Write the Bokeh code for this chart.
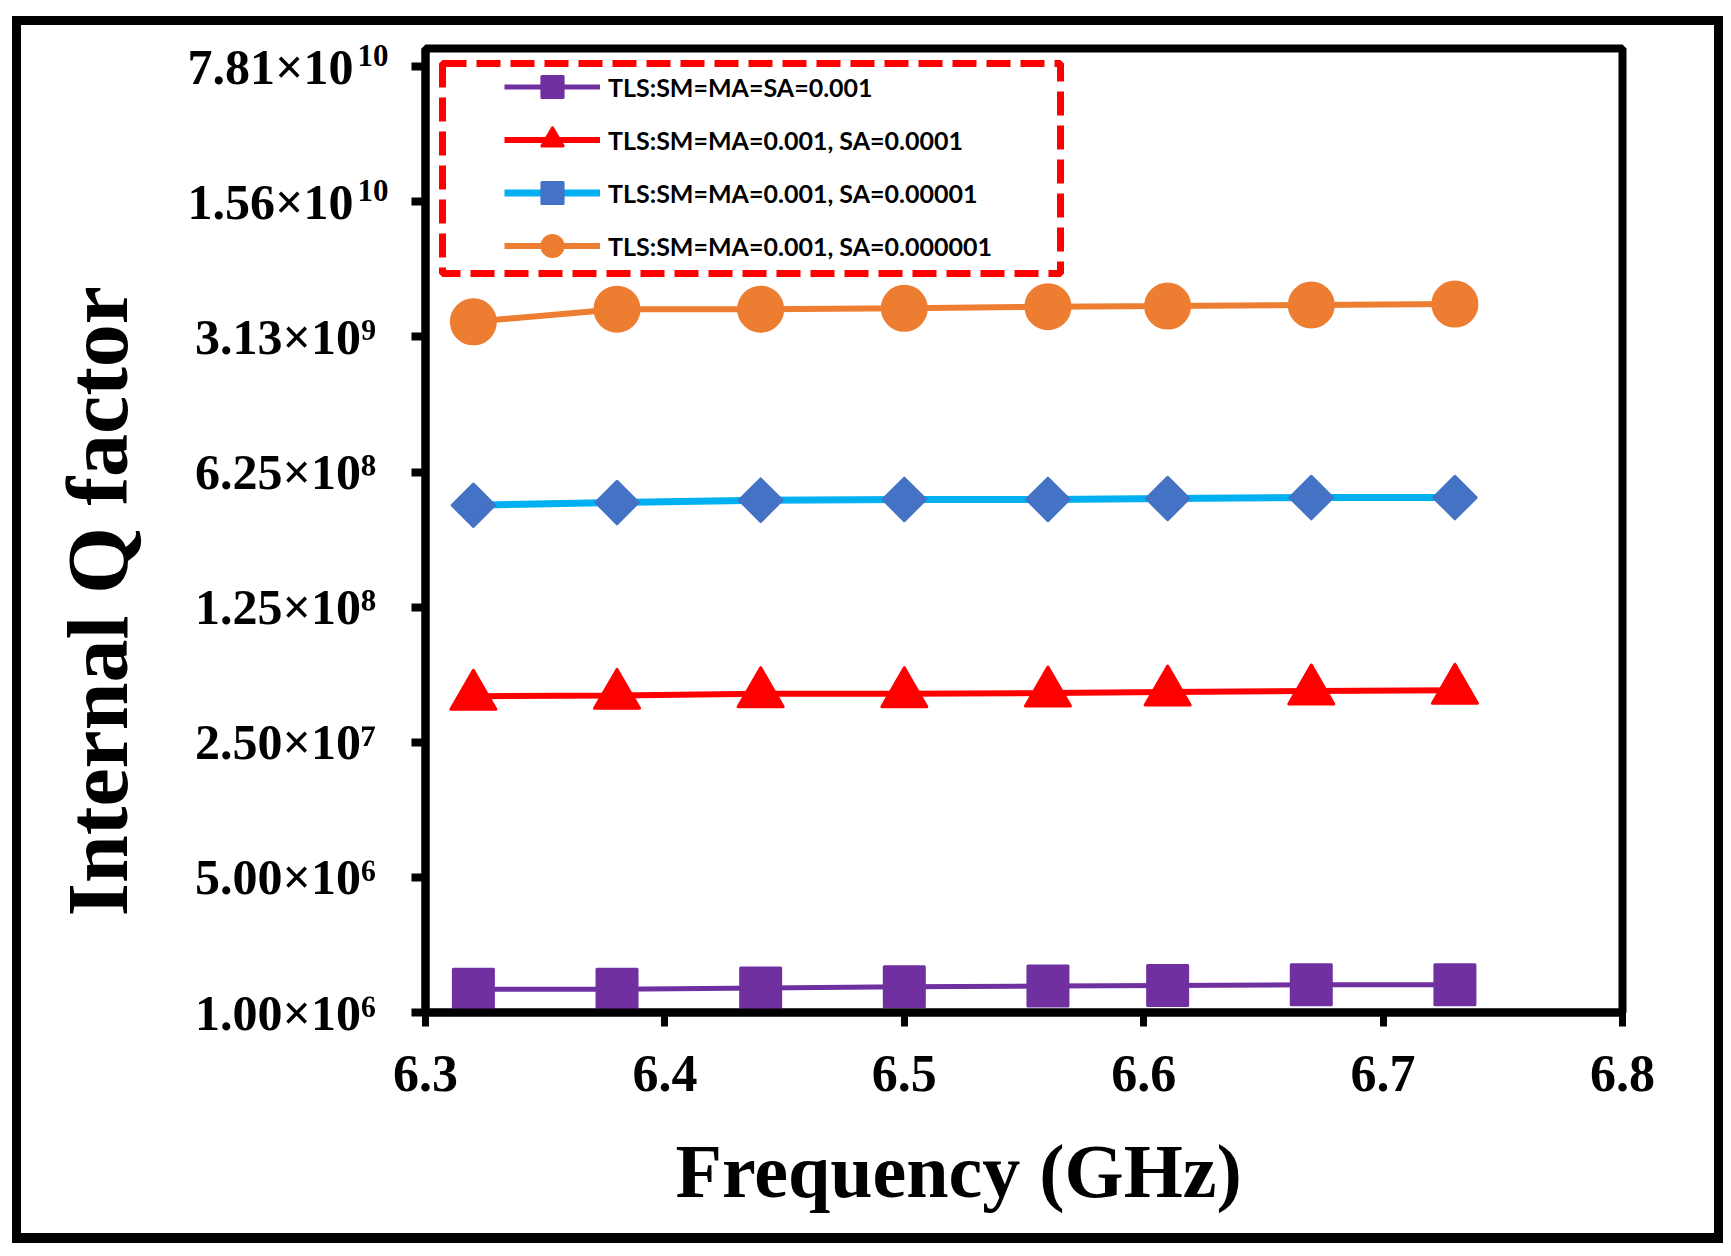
import numpy as np
from bokeh.plotting import figure
from bokeh.models import (Range1d, FixedTicker, PrintfTickFormatter, CustomJSTickFormatter,
                          Legend, LegendItem, BoxAnnotation, Title, Label)
from bokeh.embed import file_html
from bokeh.resources import INLINE

# data
freq = [6.32, 6.38, 6.44, 6.50, 6.56, 6.61, 6.67, 6.73]
q_sa_1e3 = [1.32e6, 1.32e6, 1.34e6, 1.36e6, 1.37e6, 1.38e6, 1.39e6, 1.39e6]
q_sa_1e4 = [4.32e7, 4.37e7, 4.46e7, 4.46e7, 4.49e7, 4.55e7, 4.60e7, 4.64e7]
q_sa_1e5 = [4.21e8, 4.35e8, 4.47e8, 4.51e8, 4.51e8, 4.56e8, 4.61e8, 4.61e8]
q_sa_1e6 = [3.74e9, 4.35e9, 4.35e9, 4.39e9, 4.48e9, 4.51e9, 4.57e9, 4.62e9]

series_labels = ["TLS:SM=MA=SA=0.001",
                 "TLS:SM=MA=0.001, SA=0.0001",
                 "TLS:SM=MA=0.001, SA=0.00001",
                 "TLS:SM=MA=0.001, SA=0.000001"]

x_ticks = [6.3, 6.4, 6.5, 6.6, 6.7, 6.8]
y_ticks = [1e6, 5e6, 2.5e7, 1.25e8, 6.25e8, 3.125e9, 1.5625e10, 7.8125e10]
# the two-digit exponents are drawn as separate small labels (gap kept with spaces)
y_tick_labels = ["1.00×10⁶\u2008", "5.00×10⁶\u2008", "2.50×10⁷\u2008", "1.25×10⁸\u2008",
                 "6.25×10⁸\u2008", "3.13×10⁹\u2008", "1.56×10\u2002\u2009", "7.81×10\u2002\u2009"]
big_exp_ticks = [1.5625e10, 7.8125e10]
big_exp_text = ["10", "10"]

x_lo, x_hi = 6.3, 6.8
y_lo, y_hi = 1e6, 9.7e10

SERIF = "Liberation Serif"

p = figure(width=1731, height=1256, x_range=Range1d(x_lo, x_hi), y_range=Range1d(y_lo, y_hi),
           y_axis_type="log", output_backend="svg", toolbar_location=None,
           min_border_left=425, min_border_right=109, min_border_top=48, min_border_bottom=244)
# outer black frame around the whole picture
p.styles = {"box-shadow": "inset 12px 16px 0 0 #ffffff, inset -8px -13px 0 0 #ffffff, "
                          "inset 21px 25px 0 0 #000000, inset -17px -23px 0 0 #000000",
            "background-color": "#ffffff"}
p.border_fill_color = None

p.xgrid.visible = False
p.ygrid.visible = False
p.outline_line_color = "black"
p.outline_line_width = 8
p.outline_line_alpha = 1.0
p.background_fill_color = "white"

# x axis
xa = p.xaxis[0]
xa.ticker = FixedTicker(ticks=x_ticks)
xa.formatter = PrintfTickFormatter(format="%.1f")
xa.axis_line_width = 8
xa.axis_line_color = "black"
xa.major_tick_line_width = 7
xa.major_tick_out = 14
xa.major_tick_in = 0
xa.minor_tick_line_color = None
xa.major_label_standoff = 29
xa.major_label_text_font = SERIF
xa.major_label_text_font_style = "bold"
xa.major_label_text_font_size = "52px"
xa.major_label_text_color = "black"

# y axis (log, steps of 5)
ya = p.yaxis[0]
ya.ticker = FixedTicker(ticks=y_ticks, minor_ticks=[])
ya.formatter = CustomJSTickFormatter(args=dict(tv=y_ticks, tl=y_tick_labels), code="""
    for (let i = 0; i < tv.length; i++) {
        if (Math.abs(tick - tv[i]) <= 1e-6 * tv[i]) return tl[i]
    }
    return ''
""")
ya.axis_line_width = 8
ya.axis_line_color = "black"
ya.major_tick_line_width = 8
ya.major_tick_out = 14
ya.major_tick_in = 0
ya.minor_tick_line_color = None
ya.major_label_standoff = 23
ya.major_label_text_font = SERIF
ya.major_label_text_font_style = "bold"
ya.major_label_text_font_size = "50px"
ya.major_label_text_color = "black"

styles = [
    (q_sa_1e3, "#7030A0", "#7030A0", "square", 40, 0, 5),
    (q_sa_1e4, "#FF0000", "#FF0000", "triangle", 45, 0, 6),
    (q_sa_1e5, "#00B0F0", "#4472C4", "square", 30, np.pi / 4, 7),
    (q_sa_1e6, "#ED7D31", "#ED7D31", "circle", 44, 0, 6),
]

items = []
for (vals, lc, mc, mk, sz, ang, lw), lab in zip(styles, series_labels):
    r1 = p.line(freq, vals, line_color=lc, line_width=lw)
    r2 = p.scatter(freq, vals, marker=mk, size=sz, angle=ang, fill_color=mc,
                   line_color=mc, line_width=3, line_join="round")
    items.append(LegendItem(label=lab, renderers=[r1, r2]))

legend = Legend(items=items, location=(79, 740), orientation="vertical",
                glyph_width=96, glyph_height=53, label_height=53, label_standoff=8,
                spacing=0, padding=0, margin=0, border_line_alpha=0,
                background_fill_alpha=0,
                label_text_font="Lato", label_text_font_style="bold",
                label_text_font_size="25px", label_text_color="black")
p.add_layout(legend)

# dashed legend frame
p.add_layout(BoxAnnotation(left=442, right=1060, top=63, bottom=273,
                           left_units="canvas", right_units="canvas",
                           top_units="canvas", bottom_units="canvas",
                           fill_alpha=0, line_color="#FF0000", line_alpha=1.0,
                           line_width=7, line_dash="24 10"))

# superscript "10" of the two top tick labels (side panel so it is not clipped)
for yv, txt in zip(big_exp_ticks, big_exp_text):
    p.add_layout(Label(x=x_lo, y=yv, x_offset=-68, y_offset=11, text=txt,
                       text_font=SERIF, text_font_style="bold", text_font_size="31px",
                       text_align="left", text_baseline="middle", text_color="black"), "right")

# axis titles
p.add_layout(Title(text="Internal Q factor", align="left", offset=96, vertical_align="top",
                   standoff=73, text_font=SERIF, text_font_style="bold",
                   text_font_size="86px", text_color="black"), "left")
p.add_layout(Title(text="Frequency (GHz)", align="left", offset=250, vertical_align="top",
                   standoff=71, text_font=SERIF, text_font_style="bold",
                   text_font_size="76px", text_color="black"), "below")

open("out.html", "w").write(file_html(p, INLINE))
